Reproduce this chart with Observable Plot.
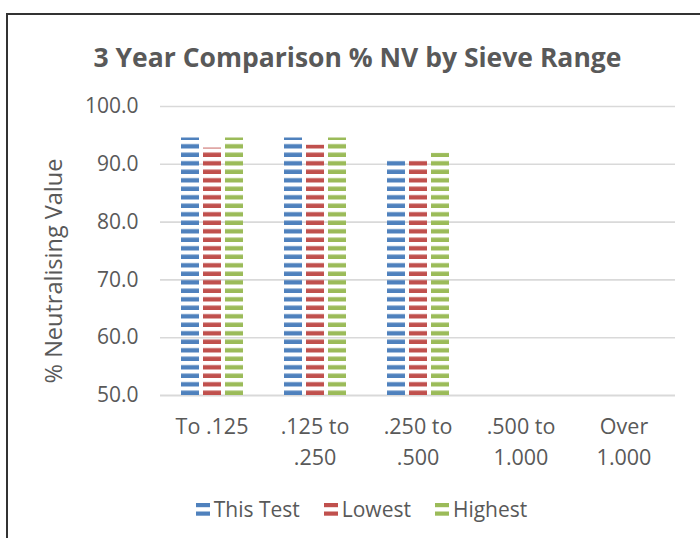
<!DOCTYPE html>
<html><head><meta charset="utf-8">
<script src="https://cdn.jsdelivr.net/npm/d3@7"></script>
<script src="https://cdn.jsdelivr.net/npm/@observablehq/plot@0.6"></script>
<style>
body{margin:0;background:#fff;font-family:"Open Sans",sans-serif;}
#wrap{position:relative;width:700px;height:538px;overflow:hidden;background:#fff;}
#frame{position:absolute;left:6px;top:13px;width:720px;height:600px;border:2px solid #333;box-sizing:border-box;}
#title{position:absolute;left:0;width:715px;top:41px;text-align:center;font-weight:bold;font-size:26.5px;line-height:32px;color:#595959;white-space:nowrap;}
#ylabel{position:absolute;left:53px;top:271px;width:300px;margin-left:-150px;margin-top:-14px;height:28px;line-height:28px;text-align:center;transform:rotate(-90deg);font-size:23.5px;color:#595959;white-space:nowrap;}
#chart{position:absolute;left:0;top:90px;}
#legend{position:absolute;top:495px;left:0;width:723px;display:flex;justify-content:center;gap:24px;font-size:21px;color:#595959;line-height:28px;}
.item{display:flex;align-items:center;gap:4px;}
#defs{position:absolute;width:0;height:0;}
</style></head>
<body>
<div id="wrap">
  <div id="frame"></div>
  <div id="title"></div>
  <div id="ylabel"></div>
  <div id="chart"></div>
  <div id="legend"></div>
</div>
<script>
// ---- data ----
const categories = ["To .125", ".125 to\n.250", ".250 to\n.500", ".500 to\n1.000", "Over\n1.000"];
const seriesNames = ["This Test", "Lowest", "Highest"];
const seriesColors = ["#4f81bd", "#c0504d", "#9bbb59"];
const thisTest = [94.55, 94.55, 90.6, null, null];
const lowest   = [92.8, 93.3, 90.6, null, null];
const highest  = [94.55, 94.55, 91.9, null, null];
const yTicks = [50, 60, 70, 80, 90, 100];
const yLabel = "% Neutralising Value";
const chartTitle = "3 Year Comparison % NV by Sieve Range";

document.getElementById("title").textContent = chartTitle;
document.getElementById("ylabel").textContent = yLabel;

// striped pattern definitions (Excel "dark horizontal" fill)
const svgNS = "http://www.w3.org/2000/svg";
const defsSvg = document.createElementNS(svgNS, "svg");
defsSvg.setAttribute("id", "defs");
defsSvg.setAttribute("width", 0);
defsSvg.setAttribute("height", 0);
const defs = document.createElementNS(svgNS, "defs");
const period = 8.5, stripe = 4.4, baseY = 305;
seriesColors.forEach((c, i) => {
  const p = document.createElementNS(svgNS, "pattern");
  p.setAttribute("id", "pat" + i);
  p.setAttribute("patternUnits", "userSpaceOnUse");
  p.setAttribute("width", 10);
  p.setAttribute("height", period);
  p.setAttribute("y", baseY % period);
  const r = document.createElementNS(svgNS, "rect");
  r.setAttribute("x", 0); r.setAttribute("width", 10);
  r.setAttribute("y", period - stripe); r.setAttribute("height", stripe);
  r.setAttribute("fill", c);
  p.appendChild(r);
  defs.appendChild(p);
});
defsSvg.appendChild(defs);
document.body.appendChild(defsSvg);

const seriesValues = [thisTest, lowest, highest];
const rows = [];
categories.forEach((cat, ci) => {
  seriesNames.forEach((s, si) => {
    const v = seriesValues[si][ci];
    if (v != null) rows.push({category: cat, series: s, value: v, fill: "url(#pat" + si + ")"});
  });
});

const plot = Plot.plot({
  width: 700, height: 385,
  marginTop: 16, marginBottom: 80, marginLeft: 159, marginRight: 24,
  style: {fontFamily: "'Open Sans', sans-serif", fontSize: "21px", color: "#595959", background: "transparent", overflow: "visible"},
  fx: {domain: categories, padding: 0, axis: null, label: null},
  x: {domain: seriesNames, paddingInner: 0.2, paddingOuter: 0.85, axis: null},
  y: {domain: [50, 100], ticks: yTicks, tickFormat: d => d.toFixed(1), tickSize: 0, tickPadding: 22, label: null},
  color: {type: "identity"},
  marks: [
    Plot.ruleY(yTicks.slice(1), {stroke: "#d9d9d9", strokeWidth: 1.6}),
    Plot.ruleY([50], {stroke: "#d9d9d9", strokeWidth: 2}),
    Plot.barY(rows, {fx: "category", x: "series", y1: 50, y2: "value", fill: "fill"}),
    Plot.text(categories, {fx: d => d, text: d => d, frameAnchor: "bottom", lineAnchor: "top", dy: 16, lineHeight: 1.45, fill: "#595959", fontSize: 21.5})
  ]
});
document.getElementById("chart").appendChild(plot);

// legend
const legend = document.getElementById("legend");
seriesNames.forEach((s, i) => {
  const item = document.createElement("div");
  item.className = "item";
  const sw = document.createElementNS(svgNS, "svg");
  sw.setAttribute("width", 14); sw.setAttribute("height", 13);
  [0, 8.5].forEach(y => {
    const r = document.createElementNS(svgNS, "rect");
    r.setAttribute("x", 0); r.setAttribute("y", y); r.setAttribute("width", 14); r.setAttribute("height", 4.2);
    r.setAttribute("fill", seriesColors[i]);
    sw.appendChild(r);
  });
  const t = document.createElement("span");
  t.textContent = s;
  item.appendChild(sw); item.appendChild(t);
  legend.appendChild(item);
});
</script>
</body></html>
